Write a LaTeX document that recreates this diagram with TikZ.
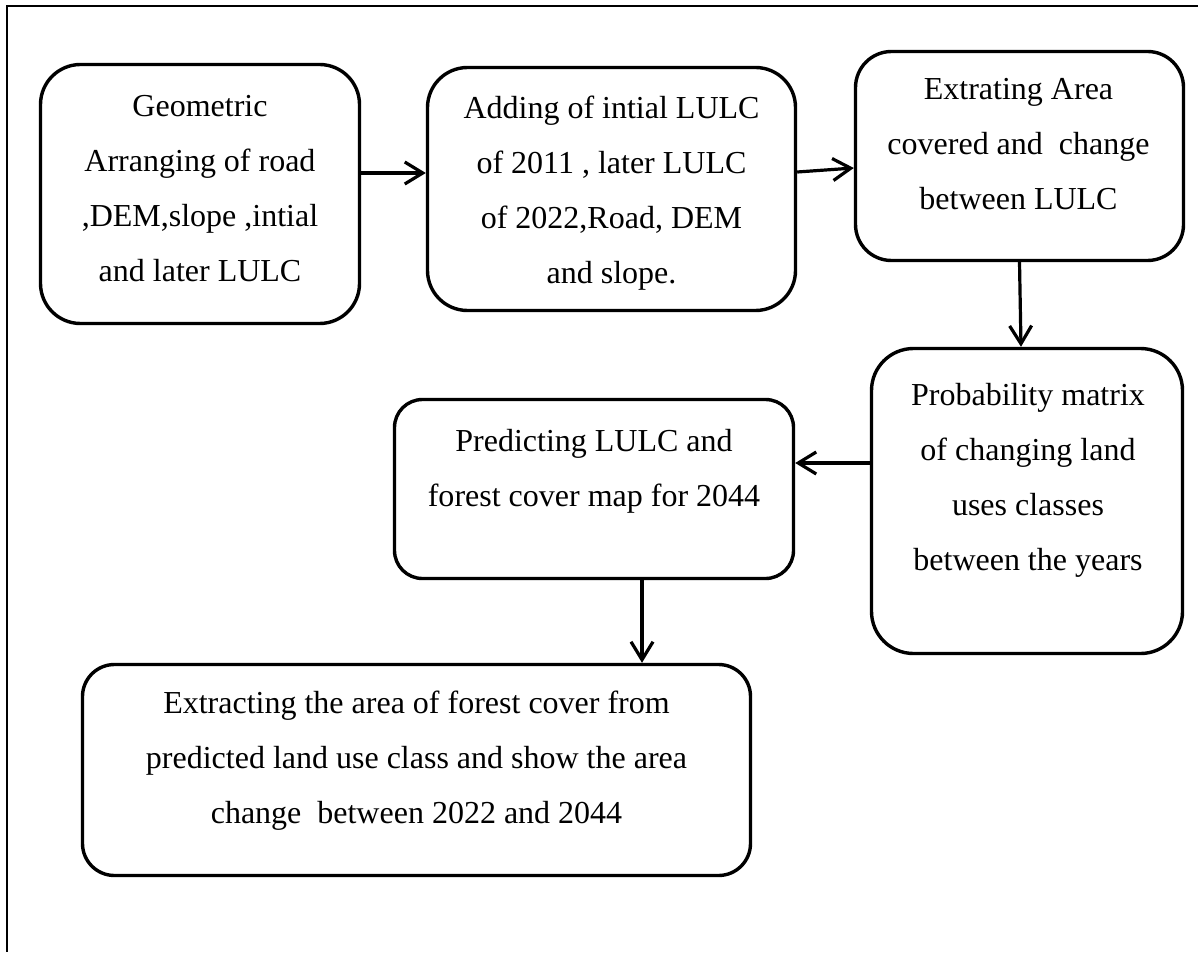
\documentclass[tikz,border=0pt]{standalone}
\usepackage{fontspec}
\setmainfont{Liberation Serif}
\usetikzlibrary{arrows.meta}

\tikzset{
  stage/.style={draw, line width=1.7pt, rounded corners=18pt, inner sep=0pt},
  txt/.style={align=center, inner sep=0pt, font=\fontsize{16}{27.5}\selectfont},
  flow/.style={line width=1.6pt, -{Straight Barb[length=9pt,width=11pt]}}
}

\begin{document}
\begin{tikzpicture}[x=0.5pt, y=-0.5pt]
\useasboundingbox (0,0) rectangle (1198,952);

%frame
\draw[line width=1pt] (1198,6) -- (7,6) -- (7,952);

%boxes
\node[stage, minimum width=159.5pt, minimum height=129.5pt, rounded corners=20pt] (geo) at (200,194) {};
\node[stage, minimum width=184pt, minimum height=121.5pt, rounded corners=20pt] (add) at (611.5,189) {};
\node[stage, minimum width=164pt, minimum height=104.5pt] (ext) at (1019.5,156) {};
\node[stage, minimum width=155.5pt, minimum height=152.5pt, rounded corners=21pt] (prob) at (1027,501) {};
\node[stage, minimum width=199.5pt, minimum height=89.5pt, rounded corners=14pt] (pred) at (594,489) {};
\node[stage, minimum width=334pt, minimum height=105.5pt, rounded corners=16pt] (area) at (416.5,770) {};

%texts
\node[txt] (geo-txt) at (200,189) {Geometric\\ Arranging of road\\ ,DEM,slope ,intial\\ and later LULC};
\node[txt] (add-txt) at (611.5,193) {Adding of intial LULC\\ of 2011 , later LULC\\ of 2022,Road, DEM\\ and slope.};
\node[txt] (ext-txt) at (1018.5,144) {Extrating Area\\ covered and~ change\\ between LULC};
\node[txt] (prob-txt) at (1028,480) {Probability matrix\\ of changing land\\ uses classes\\ between the years};
\node[txt] (pred-txt) at (594,471) {Predicting LULC and\\ forest cover map for 2044};
\node[txt] (area-txt) at (416.5,760.5) {Extracting the area of forest cover from\\ predicted land use class and show the area\\ change~ between 2022 and 2044};

%arrows
\draw[flow] (geo.east |- 0,173) -- (add.west |- 0,173);
\draw[flow] (add.east |- 0,172) -- (ext.west |- 0,168);
\draw[flow] (ext.south) -- (prob.north -| 1021,0);
\draw[flow] (prob.west |- 0,463) -- (pred.east |- 0,463);
\draw[flow] (pred.south -| 642,0) -- (area.north -| 642,0);
\end{tikzpicture}
\end{document}
